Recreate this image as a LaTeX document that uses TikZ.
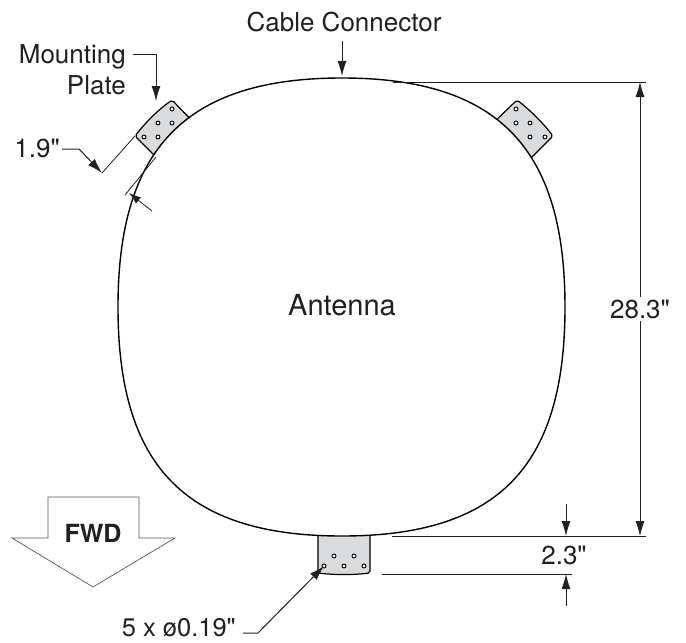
\documentclass[tikz,border=0pt]{standalone}
\usepackage{fontspec}
\newfontfamily\helv{TeX Gyre Heros}
\usetikzlibrary{arrows.meta,positioning}
\definecolor{platefill}{HTML}{DADBDD}
\definecolor{inkgray}{HTML}{231F20}
\tikzset{
  outline/.style={line width=1.4pt,black},
  plate/.style={line width=1.2pt,black,fill=platefill,rounded corners=2pt},
  hole/.style={circle,draw=black,fill=white,line width=.9pt,inner sep=0pt,minimum size=4pt},
  dimline/.style={line width=1pt,inkgray},
  thinline/.style={line width=.8pt,inkgray},
  leader/.style={line width=1pt,inkgray,-{Latex[length=15pt,width=9pt]}},
  lbl/.style={font=\helv\fontsize{26}{29}\selectfont,text=inkgray,inner sep=0pt}
}
\begin{document}
\begin{tikzpicture}[x=1pt,y=-1pt]
\useasboundingbox (0,0) rectangle (686,643);
\def\antennapath{(342,78) .. controls (500,78) and (565,150) .. (565,307)
  .. controls (565,465) and (500,536) .. (342,536)
  .. controls (184,536) and (118,465) .. (118,307)
  .. controls (118,150) and (184,78) .. (342,78) -- cycle}
% mounting plates
\draw[plate] (200,129) -- (172,100) .. controls (158,110) and (146,122) .. (135,136) -- (164,165) -- cycle;
\draw[plate] (488,128) -- (517,100) .. controls (531,111) and (543,123) .. (553,136) -- (524,165) -- cycle;
\draw[plate] (318,530) -- (318,573) .. controls (335,575) and (353,575) .. (370,573) -- (370,530) -- cycle;
\fill[white] \antennapath;
\draw[outline] \antennapath;
% holes
\foreach \x/\y [count=\i] in {172/109,158/123,172/123,144/137,158/137}
  \node[hole] (holeL\i) at (\x,\y) {};
\foreach \x/\y [count=\i] in {516/109,516/123,530/123,530/137,545/137}
  \node[hole] (holeR\i) at (\x,\y) {};
\foreach \x/\y [count=\i] in {334/556,354/556,324/566,344/566,364/566}
  \node[hole] (holeB\i) at (\x,\y) {};
\node[lbl,font=\helv\fontsize{29}{32}\selectfont] (antenna) at (342,305) {Antenna};
% cable connector
\node[lbl] (cable) at (344,22) {Cable Connector};
\coordinate (cabletip) at (342,76);
\draw[leader] (cable.south -| cabletip) ++(0,9) coordinate (cabletop) -- (cabletip);
% mounting plate label
\node[lbl,align=right,anchor=north east] (mounting) at (126,44) {Mounting\\[2pt]Plate};
\coordinate (mountstart) at (133,54);
\coordinate (mountbend) at (156,54);
\coordinate (mounttip) at (156,101);
\draw[leader] (mountstart) -- (mountbend) -- (mounttip);
% width of plate
\node[lbl,anchor=east] (widthlbl) at (60,148) {1.9"};
\coordinate (widthA) at (135,136);
\coordinate (widthB) at (102,173);
\coordinate (widthC) at (156,157);
\coordinate (widthD) at (125,195);
\coordinate (bendW) at (79,149);
\coordinate (arrowE) at (152,211);
\coordinate (arrowF) at (129,193);
\draw[thinline] (widthA) -- (widthB);
\draw[thinline] (widthC) -- (widthD);
\draw[leader] (widthlbl.east) ++(2,1) -- (bendW) -- (widthB);
\draw[line width=.8pt,inkgray,-{Latex[length=12pt,width=8pt]}] (arrowE) -- (arrowF);
% overall height
\coordinate (topA) at (393,82);
\coordinate (topB) at (646,82);
\coordinate (botA) at (392,536);
\coordinate (botB) at (646,536);
\coordinate (topdim) at (640,82);
\coordinate (botdim) at (640,536);
\draw[dimline] (topA) -- (topB);
\draw[dimline] (botA) -- (botB);
\draw[thinline,{Latex[length=15pt,width=9pt]}-{Latex[length=15pt,width=9pt]}] (topdim) -- (botdim);
\node[lbl,fill=white,inner ysep=3pt,inner xsep=0pt] (heightlbl) at (640,309) {28.3"};
% plate height
\coordinate (plateA) at (382,574);
\coordinate (plateB) at (572,574);
\coordinate (uptail) at (566,504);
\coordinate (uptip) at (566,536);
\coordinate (downtail) at (566,606);
\coordinate (downtip) at (566,574);
\draw[dimline] (plateA) -- (plateB);
\draw[leader] (uptail) -- (uptip);
\draw[leader] (downtail) -- (downtip);
\node[lbl] (platelbl) at (564,555) {2.3"};
% holes label
\node[lbl,anchor=east,font=\helv\fontsize{25.5}{28}\selectfont] (holelbl) at (236,628) {5 x ø0.19"};
\coordinate (bendH) at (258,633);
\draw[leader] (holelbl.east) ++(7,5) -- (bendH) -- (holeB3.center);
% forward arrow
\draw[line width=.7pt,gray!70!black,line join=miter] (48,497) -- (139,497) -- (139,538) -- (175,538)
  -- (93,587) -- (12,538) -- (48,538) -- cycle;
\node[lbl,font=\helv\fontsize{25}{28}\selectfont\bfseries] (fwd) at (93,533) {FWD};
\end{tikzpicture}
\end{document}
